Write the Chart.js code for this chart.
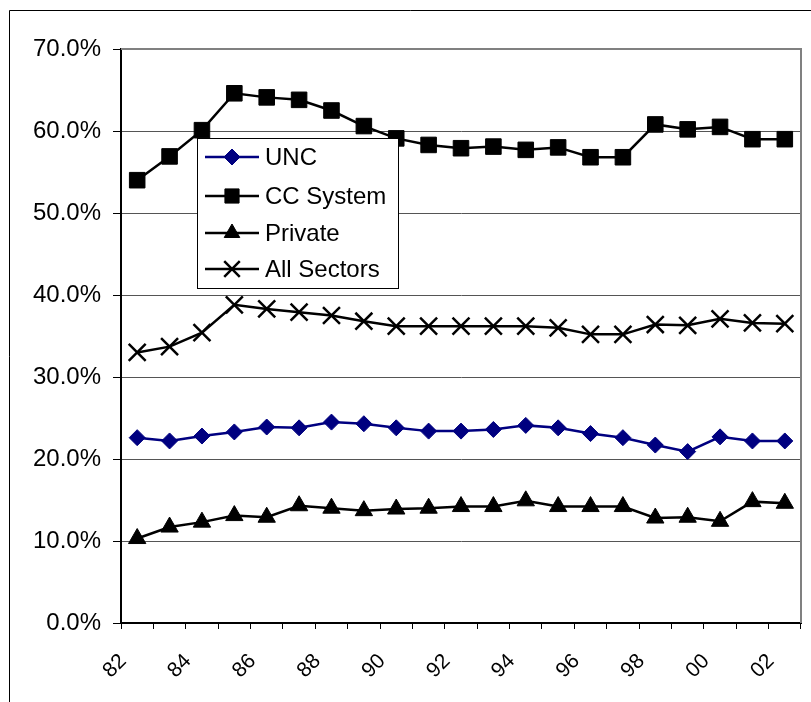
<!DOCTYPE html>
<html>
<head>
<meta charset="utf-8">
<script src="https://cdn.jsdelivr.net/npm/chart.js@4/dist/chart.umd.min.js"></script>
<style>
  html, body { margin: 0; padding: 0; background: #fff; }
  canvas { display: block; }
</style>
</head>
<body>
<canvas id="c" width="811" height="702"></canvas>
<script>
// Share of enrollment by sector, 1982-2002 (percent)
const years = ['82','83','84','85','86','87','88','89','90','91','92','93','94','95','96','97','98','99','00','01','02'];
const unc        = [22.6, 22.2, 22.8, 23.3, 23.9, 23.8, 24.5, 24.3, 23.8, 23.4, 23.4, 23.6, 24.1, 23.8, 23.1, 22.6, 21.7, 20.9, 22.7, 22.2, 22.2];
const ccSystem   = [54.0, 56.9, 60.1, 64.6, 64.1, 63.8, 62.5, 60.6, 59.1, 58.3, 57.9, 58.1, 57.7, 58.0, 56.8, 56.8, 60.8, 60.2, 60.5, 59.0, 59.0];
const privateSec = [10.3, 11.7, 12.3, 13.1, 12.9, 14.3, 14.0, 13.7, 13.9, 14.0, 14.2, 14.2, 14.9, 14.2, 14.2, 14.2, 12.8, 12.9, 12.4, 14.8, 14.6];
const allSectors = [33.0, 33.7, 35.4, 38.8, 38.3, 37.9, 37.5, 36.8, 36.2, 36.2, 36.2, 36.2, 36.2, 36.0, 35.2, 35.2, 36.4, 36.3, 37.1, 36.6, 36.5];
const yTicks = [0, 10, 20, 30, 40, 50, 60, 70];

const FONT = '"Liberation Sans", Arial, sans-serif';

// White page with the chart frame (left and top edges visible)
const framePlugin = {
  id: 'frame',
  beforeDraw(chart) {
    const ctx = chart.ctx;
    ctx.save();
    ctx.fillStyle = '#fff';
    ctx.fillRect(0, 0, chart.width, chart.height);
    ctx.strokeStyle = '#000';
    ctx.lineWidth = 1;
    ctx.beginPath();
    ctx.moveTo(9.5, chart.height);
    ctx.lineTo(9.5, 10.5);
    ctx.lineTo(chart.width, 10.5);
    ctx.stroke();
    ctx.restore();
  },
  beforeDatasetsDraw(chart) {
    // grey top/right border of the plot area
    const a = chart.chartArea, ctx = chart.ctx;
    ctx.save();
    ctx.strokeStyle = '#808080';
    ctx.lineWidth = 2;
    ctx.beginPath();
    ctx.moveTo(a.left, a.top);
    ctx.lineTo(a.right, a.top);
    ctx.lineTo(a.right, a.bottom);
    ctx.stroke();
    ctx.restore();
  }
};

// Boxed legend inside the plot area
const boxLegend = {
  id: 'boxLegend',
  afterDatasetsDraw(chart) {
    const ctx = chart.ctx;
    const x0 = 197.5, y0 = 138.5, w = 201, h = 150;
    ctx.save();
    ctx.fillStyle = '#fff';
    ctx.fillRect(x0, y0, w, h);
    ctx.strokeStyle = '#000';
    ctx.lineWidth = 1;
    ctx.strokeRect(x0, y0, w, h);
    const rows = [157, 196, 233, 269];
    chart.data.datasets.forEach((ds, i) => {
      const y = rows[i];
      ctx.strokeStyle = ds.borderColor;
      ctx.lineWidth = ds.borderWidth;
      ctx.beginPath();
      ctx.moveTo(205, y);
      ctx.lineTo(259, y);
      ctx.stroke();
      ctx.fillStyle = ds.pointBackgroundColor;
      ctx.strokeStyle = ds.pointBorderColor;
      ctx.lineWidth = ds.pointBorderWidth;
      Chart.helpers.drawPoint(ctx, {
        pointStyle: ds.pointStyle,
        radius: ds.legendRadius,
        rotation: 0,
        borderWidth: ds.pointBorderWidth
      }, 232, y);
      ctx.fillStyle = '#000';
      ctx.font = '24px ' + FONT;
      ctx.textAlign = 'left';
      ctx.textBaseline = 'middle';
      ctx.fillText(ds.label, 265, y + 1);
    });
    ctx.restore();
  }
};

function series(label, data, color, style, radius, legendRadius, pbw) {
  return {
    label, data,
    borderColor: color,
    backgroundColor: color,
    borderWidth: 2.5,
    pointStyle: style,
    pointRadius: radius,
    pointHoverRadius: radius,
    pointBackgroundColor: color,
    pointBorderColor: color,
    pointBorderWidth: pbw,
    legendRadius,
    tension: 0,
    clip: false
  };
}

new Chart(document.getElementById('c'), {
  type: 'line',
  data: {
    labels: years,
    datasets: [
      series('UNC', unc, '#000080', 'rectRot', 8, 8, 1),
      series('CC System', ccSystem, '#000000', 'rect', 11, 10, 1),
      series('Private', privateSec, '#000000', 'triangle', 10, 9, 1),
      series('All Sectors', allSectors, '#000000', 'crossRot', 12, 11, 2.5)
    ]
  },
  options: {
    responsive: false,
    animation: false,
    devicePixelRatio: 1,
    layout: { autoPadding: false, padding: { left: 0, top: 49, right: 10, bottom: 0 } },
    plugins: { legend: { display: false }, tooltip: { enabled: false } },
    scales: {
      x: {
        type: 'category',
        offset: true,
        afterFit(scale) {
          scale.height = 79;
          scale.paddingLeft = 0;
          scale.paddingRight = 0;
        },
        grid: { offset: true, drawOnChartArea: false, drawTicks: true, tickLength: 6, tickColor: '#000', tickWidth: 1 },
        border: { color: '#000', width: 2 },
        ticks: {
          autoSkip: false,
          maxRotation: 45,
          minRotation: 45,
          padding: 20,
          labelOffset: -14,
          color: '#000',
          font: { family: FONT, size: 21 },
          callback(value, index) { return index % 2 === 0 ? years[index] : ''; }
        }
      },
      y: {
        min: 0,
        max: 70,
        afterFit(scale) { scale.width = 121; },
        afterBuildTicks(scale) { scale.ticks = yTicks.map(v => ({ value: v })); },
        grid: { color: '#555', lineWidth: 1, drawTicks: true, tickLength: 8, tickColor: '#000', tickWidth: 1 },
        border: { color: '#000', width: 2 },
        ticks: {
          padding: 12,
          color: '#000',
          font: { family: FONT, size: 24 },
          callback(v) { return v.toFixed(1) + '%'; }
        }
      }
    }
  },
  plugins: [framePlugin, boxLegend]
});
</script>
</body>
</html>
